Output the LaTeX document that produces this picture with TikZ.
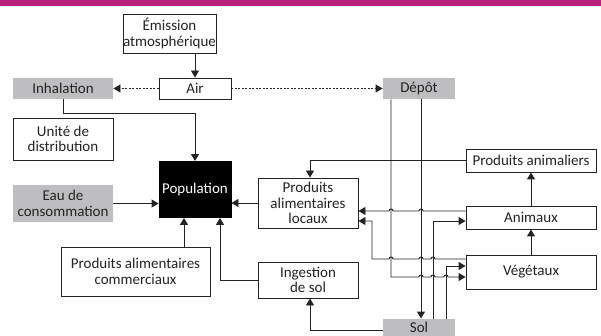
\documentclass[tikz,border=0pt]{standalone}
\usepackage{fontspec}
\setmainfont{Carlito}
\usetikzlibrary{arrows.meta}
\definecolor{bandeau}{RGB}{185,32,122}
\definecolor{grisbox}{RGB}{190,190,192}
\definecolor{trait}{RGB}{35,35,35}

\begin{document}
\begin{tikzpicture}[x = 1pt, y = -1pt,
    boite/.style = {draw = trait, line width = .9pt, fill = white, align = center, inner sep = 0pt, text = trait, font = \fontsize{15}{15.5}\selectfont},
    grise/.style = {boite, draw = none, fill = grisbox},
    noire/.style = {boite, fill = black, draw = black, text = white},
    fl/.style = {draw = trait, line width = .9pt, -{Triangle[length = 7pt, width = 8pt]}},
    pointille/.style = {fl, dash pattern = on 2pt off 1.5pt}]
  \useasboundingbox (0,0) rectangle (601,336);
  \fill [bandeau] (0,0) rectangle (601,6);

  \node [boite, minimum width = 93pt, minimum height = 39pt] (emis) at (169.5,33.5) {Émission\\atmosphérique};
  \node [boite, minimum width = 72pt, minimum height = 21pt] (air) at (195,88.5) {Air};
  \node [grise, minimum width = 100pt, minimum height = 21pt] (inhal) at (63,88.5) {Inhalation};
  \node [grise, minimum width = 72pt, minimum height = 21pt] (depot) at (419,88.5) {Dépôt};
  \node [boite, minimum width = 100pt, minimum height = 42pt] (unite) at (63,139) {Unité de\\distribution};
  \node [noire, minimum width = 72pt, minimum height = 56pt] (pop) at (195,189.5) {Population};
  \node [grise, minimum width = 100pt, minimum height = 37pt] (eau) at (63,203.5) {Eau de\\consommation};
  \node [boite, minimum width = 149pt, minimum height = 49pt] (pac) at (135.5,271.5) {Produits alimentaires\\commerciaux};
  \node [boite, minimum width = 100pt, minimum height = 50pt] (pal) at (308,203) {Produits\\alimentaires\\locaux};
  \node [boite, minimum width = 100pt, minimum height = 36pt] (ing) at (308,280) {Ingestion\\de sol};
  \node [grise, minimum width = 72pt, minimum height = 17pt] (sol) at (419,327.5) {Sol};
  \node [boite, minimum width = 130pt, minimum height = 23pt] (panim) at (531,160.5) {Produits animaliers};
  \node [boite, minimum width = 130pt, minimum height = 23pt] (anim) at (531,217.5) {Animaux};
  \node [boite, minimum width = 130pt, minimum height = 34pt] (veg) at (531,272) {Végétaux};

  \draw [fl] (emis.south -| air.north) -- (air.north);
  \draw [pointille] (air.west) -- (inhal.east);
  \draw [pointille] (air.east) -- (depot.west);
  \draw [fl] (inhal.south) -- ++(0,14) -| (pop.north);
  \draw [fl] (eau.east) -- (eau.east -| pop.west);
  \draw [fl] (pac.north -| 184,0) -- (pop.south -| 184,0);
  \draw [fl] (ing.west) -| ([xshift = 25pt] pop.south);
  \draw [fl] (pal.west) -- (pal.west -| pop.east);
  \draw [fl] (sol.west |- 0,330) -| ([xshift = 2pt] ing.south);
  \draw [fl] (panim.west) -| ([xshift = 2pt] pal.north);
  \draw [fl] (anim.north) -- (panim.south);
  \draw [fl] (veg.north) -- (anim.south);
  \draw [fl] (anim.west |- 0,211) -- (423,211) arc [start angle = 0, end angle = -180, radius = 2]
    -- (393,211) arc [start angle = 0, end angle = -180, radius = 2] -- (pal.east |- 0,211);
  \draw [fl] (veg.west |- 0,259) -- (435,259) arc [start angle = 0, end angle = -180, radius = 2]
    -- (423,259) arc [start angle = 0, end angle = -180, radius = 2]
    -- (393,259) arc [start angle = 0, end angle = -180, radius = 2]
    -- (372,259) -- (372,221) -- (pal.east |- 0,221);
  \draw [fl] (depot.south -| 391,0) -- (391,277) -- (419,277) arc [start angle = 180, end angle = 360, radius = 2]
    -- (431,277) arc [start angle = 180, end angle = 360, radius = 2]
    -- (444,277) arc [start angle = 180, end angle = 360, radius = 2] -- (veg.west |- 0,277);
  \draw [fl] ([xshift = 2pt] depot.south) -- ([xshift = 2pt] sol.north);
  \draw [fl] (sol.north -| 433,0) |- (anim.west |- 0,221);
  \draw [fl] (sol.north -| 446,0) |- (veg.west |- 0,266);
\end{tikzpicture}
\end{document}
